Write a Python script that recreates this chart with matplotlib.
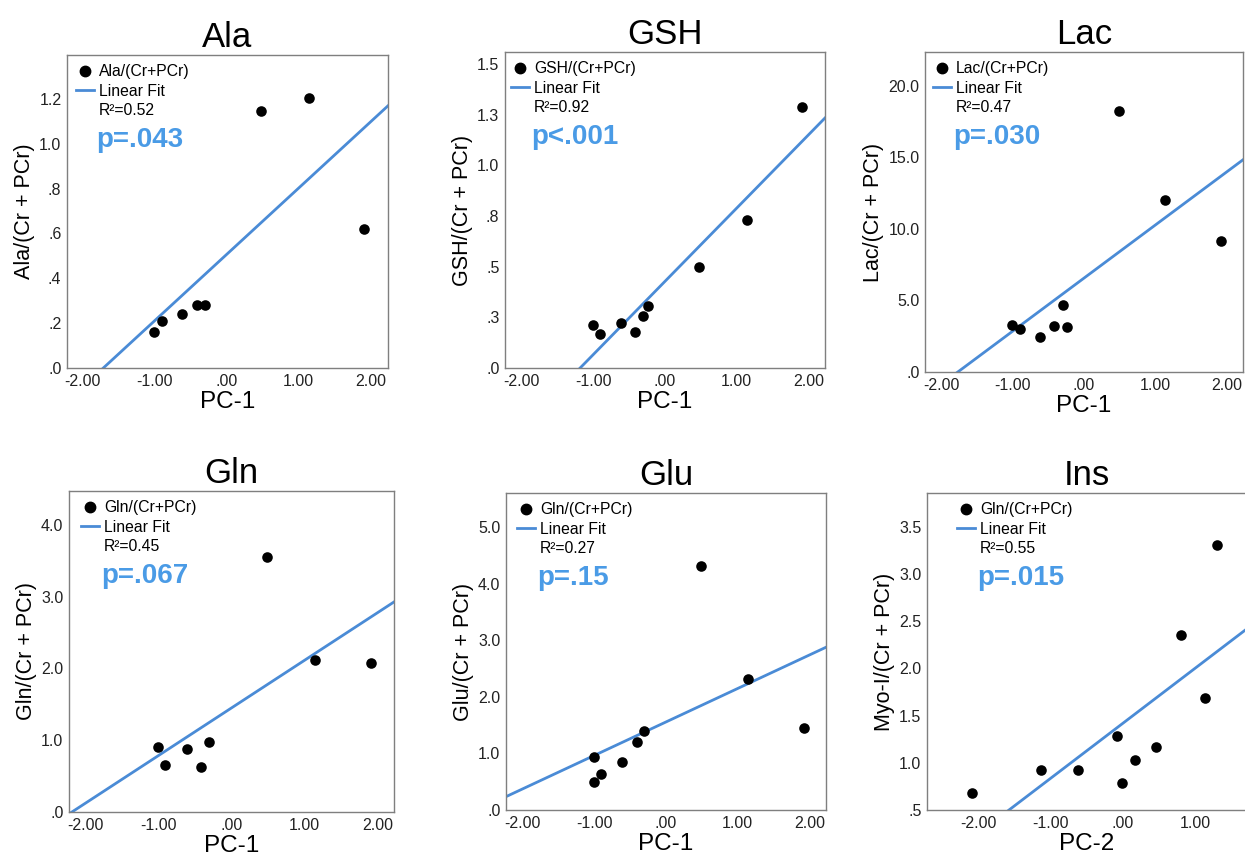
import numpy as np
import matplotlib.pyplot as plt
from matplotlib.lines import Line2D

plt.rcParams['font.family'] = ['Liberation Sans', 'DejaVu Sans']

# ---- data ----
ala_x = [-1.01, -0.90, -0.62, -0.42, -0.30, 0.48, 1.14, 1.91]
ala_y = [0.16, 0.21, 0.24, 0.28, 0.28, 1.145, 1.205, 0.62]

gsh_x = [-1.01, -0.91, -0.62, -0.42, -0.31, -0.24, 0.48, 1.14, 1.91]
gsh_y = [0.21, 0.166, 0.22, 0.18, 0.258, 0.304, 0.50, 0.73, 1.29]

lac_x = [-1.01, -0.90, -0.62, -0.42, -0.30, -0.24, 0.49, 1.14, 1.92]
lac_y = [3.27, 2.99, 2.45, 3.24, 4.71, 3.17, 18.25, 12.02, 9.15]

gln_x = [-1.01, -0.91, -0.61, -0.42, -0.305, 0.48, 1.14, 1.90]
gln_y = [0.90, 0.65, 0.88, 0.63, 0.97, 3.55, 2.12, 2.07]

glu_x = [-1.01, -1.01, -0.90, -0.61, -0.41, -0.30, 0.49, 1.14, 1.92]
glu_y = [0.94, 0.50, 0.63, 0.84, 1.21, 1.40, 4.31, 2.31, 1.45]

ins_x = [-2.09, -1.14, -0.62, -0.08, -0.02, 0.16, 0.46, 0.81, 1.14, 1.31]
ins_y = [0.683, 0.926, 0.926, 1.28, 0.79, 1.035, 1.165, 2.36, 1.69, 3.31]

titles = ['Ala', 'GSH', 'Lac', 'Gln', 'Glu', 'Ins']
legend_names = ['Ala/(Cr+PCr)', 'GSH/(Cr+PCr)', 'Lac/(Cr+PCr)',
                'Gln/(Cr+PCr)', 'Gln/(Cr+PCr)', 'Gln/(Cr+PCr)']
r2_labels = ['R²=0.52', 'R²=0.92', 'R²=0.47', 'R²=0.45', 'R²=0.27', 'R²=0.55']
p_labels = ['p=.043', 'p<.001', 'p=.030', 'p=.067', 'p=.15', 'p=.015']
xlabels = ['PC-1', 'PC-1', 'PC-1', 'PC-1', 'PC-1', 'PC-2']
ylabels = ['Ala/(Cr + PCr)', 'GSH/(Cr + PCr)', 'Lac/(Cr + PCr)',
           'Gln/(Cr + PCr)', 'Glu/(Cr + PCr)', 'Myo-I/(Cr + PCr)']

x_ticks = [-2, -1, 0, 1, 2]
x_ticklabels = ['-2.00', '-1.00', '.00', '1.00', '2.00']

y_ticks = [
    [0, 0.2, 0.4, 0.6, 0.8, 1.0, 1.2],
    [0, 0.25, 0.5, 0.75, 1.0, 1.25, 1.5],
    [0, 5, 10, 15, 20],
    [0, 1, 2, 3, 4],
    [0, 1, 2, 3, 4, 5],
    [0.5, 1.0, 1.5, 2.0, 2.5, 3.0, 3.5],
]
y_ticklabels = [
    ['.0', '.2', '.4', '.6', '.8', '1.0', '1.2'],
    ['.0', '.3', '.5', '.8', '1.0', '1.3', '1.5'],
    ['.0', '5.0', '10.0', '15.0', '20.0'],
    ['.0', '1.0', '2.0', '3.0', '4.0'],
    ['.0', '1.0', '2.0', '3.0', '4.0', '5.0'],
    ['.5', '1.0', '1.5', '2.0', '2.5', '3.0', '3.5'],
]

xs = [ala_x, gsh_x, lac_x, gln_x, glu_x, ins_x]
ys = [ala_y, gsh_y, lac_y, gln_y, glu_y, ins_y]

# ---- layout (pixels: left, right, top, bottom) ----
W, H = 1245, 859
boxes = [(67, 388, 55, 368), (505, 825, 52, 368), (925, 1243, 52, 372),
         (69, 394, 491, 812), (506, 826, 493, 810), (927, 1247, 493, 810)]
xlims = [(-2.22, 2.24), (-2.23, 2.23), (-2.23, 2.23),
         (-2.22, 2.22), (-2.23, 2.23), (-2.72, 1.72)]
ylims = [(0, 1.396), (0, 1.56), (0, 22.35), (0, 4.47), (0, 5.6), (0.5, 3.86)]
leg_dx = [9, 6, 8, 12, 11, 30]   # px from left spine to legend handle

fit_color = '#4a8bd6'
p_color = '#4a9be6'
spine_color = '#7f7f7f'

fig = plt.figure(figsize=(W / 100, H / 100), dpi=100)

for i in range(6):
    l, r, t, b = boxes[i]
    ax = fig.add_axes([l / W, 1 - b / H, (r - l) / W, (b - t) / H])
    x = np.array(xs[i])
    y = np.array(ys[i])

    slope, intercept = np.polyfit(x, y, 1)
    xl = np.array(xlims[i])
    ax.plot(xl, slope * xl + intercept, color=fit_color, lw=2.0, zorder=2)
    ax.scatter(x, y, s=58, color='black', zorder=3, linewidths=0)

    ax.set_xticks(x_ticks)
    ax.set_xticklabels(x_ticklabels)
    ax.set_yticks(y_ticks[i])
    ax.set_yticklabels(y_ticklabels[i])
    # limits after the ticks, set_ticks would widen them
    ax.set_xlim(xlims[i])
    ax.set_ylim(ylims[i])
    ax.tick_params(length=0, labelsize=11.5, pad=4, colors='#222222')
    for sp in ax.spines.values():
        sp.set_color(spine_color)
        sp.set_linewidth(1.0)

    ax.set_title(titles[i], fontsize=25, pad=6)
    ax.set_xlabel(xlabels[i], fontsize=17.5, labelpad=2)
    ax.set_ylabel(ylabels[i], fontsize=15.5, labelpad=3)

    handles = [
        Line2D([], [], marker='o', color='black', ls='none', markersize=7.5),
        Line2D([], [], color=fit_color, lw=2.0),
        Line2D([], [], color='none'),
    ]
    aw, ah = r - l, b - t
    ax.legend(handles, [legend_names[i], 'Linear Fit', r2_labels[i]],
              loc='upper left', bbox_to_anchor=(leg_dx[i] / aw, 1 - 9 / ah),
              frameon=False, fontsize=11.3, handlelength=1.15,
              handletextpad=0.3, labelspacing=0.3, borderpad=0,
              borderaxespad=0)
    ax.text((leg_dx[i] + 20) / aw, 1 - 85 / ah, p_labels[i],
            transform=ax.transAxes, fontsize=20, fontweight='bold',
            color=p_color, va='center', ha='left')

fig.savefig('out.png', dpi=100, facecolor='white')
